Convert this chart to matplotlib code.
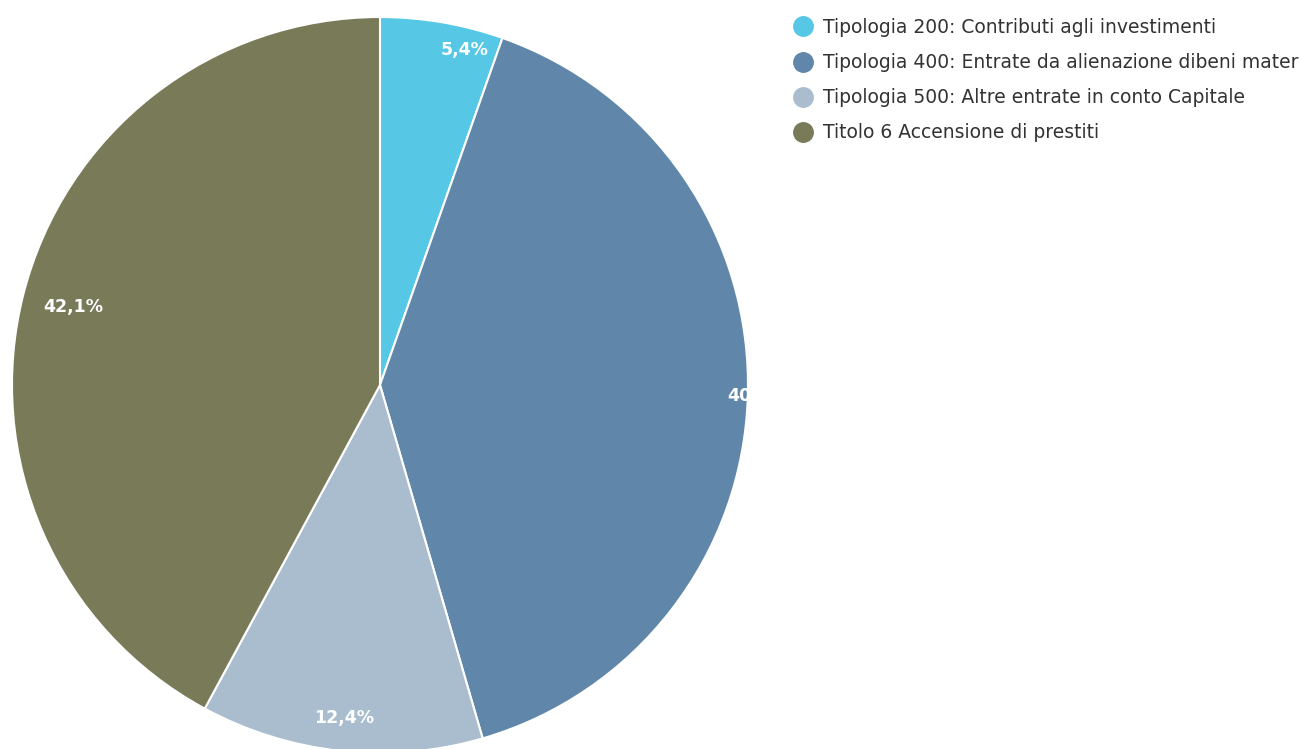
import matplotlib
matplotlib.use("Agg")
import matplotlib.pyplot as plt
import numpy as np
from matplotlib.lines import Line2D

categories = [
    "Tipologia 200: Contributi agli investimenti",
    "Tipologia 400: Entrate da alienazione dibeni materiali e immateriali",
    "Tipologia 500: Altre entrate in conto Capitale",
    "Titolo 6 Accensione di prestiti",
]
shares = [5.4, 40.1, 12.4, 42.1]
labels = ["5,4%", "40,1%", "12,4%", "42,1%"]

colors = ["#56c8e6", "#6087aa", "#a9bdce", "#787a58"]
label_dist = [0.94, 1.025, 0.91, 0.86]
label_shift = [4.5, 0, 0, 0]  # degrees, mimic the original placement

W, H = 1300, 749
plt.rcParams["font.family"] = ["DejaVu Sans"]
fig = plt.figure(figsize=(W / 100, H / 100), dpi=100)
fig.patch.set_facecolor("white")

cx, cy, r = 380, 385, 368
ax = fig.add_axes([(cx - r) / W, (H - cy - r) / H, 2 * r / W, 2 * r / H])
wedges, _ = ax.pie(
    shares,
    colors=colors,
    startangle=90,
    counterclock=False,
    radius=1.0,
    wedgeprops=dict(edgecolor="white", linewidth=1.5),
)
ax.set_xlim(-1, 1)
ax.set_ylim(-1, 1)
ax.set_aspect("equal")
ax.axis("off")

for w, lab, d, s in zip(wedges, labels, label_dist, label_shift):
    mid = np.deg2rad((w.theta1 + w.theta2) / 2 - s)
    ax.text(d * np.cos(mid), d * np.sin(mid), lab, ha="center", va="center",
            fontsize=12.5, fontweight="bold", color="white", clip_on=False)

handles = [Line2D([], [], marker="o", linestyle="none", markersize=14,
                  markerfacecolor=c, markeredgecolor=c) for c in colors]
fig.legend(handles, categories, loc="upper left", bbox_to_anchor=(793 / W, 1 - 18 / H),
           frameon=False, fontsize=13.5, labelcolor="#333333",
           handletextpad=0.5, handlelength=1.1, labelspacing=0.86,
           borderaxespad=0, borderpad=0)

fig.savefig("out.png", dpi=100, facecolor="white")
